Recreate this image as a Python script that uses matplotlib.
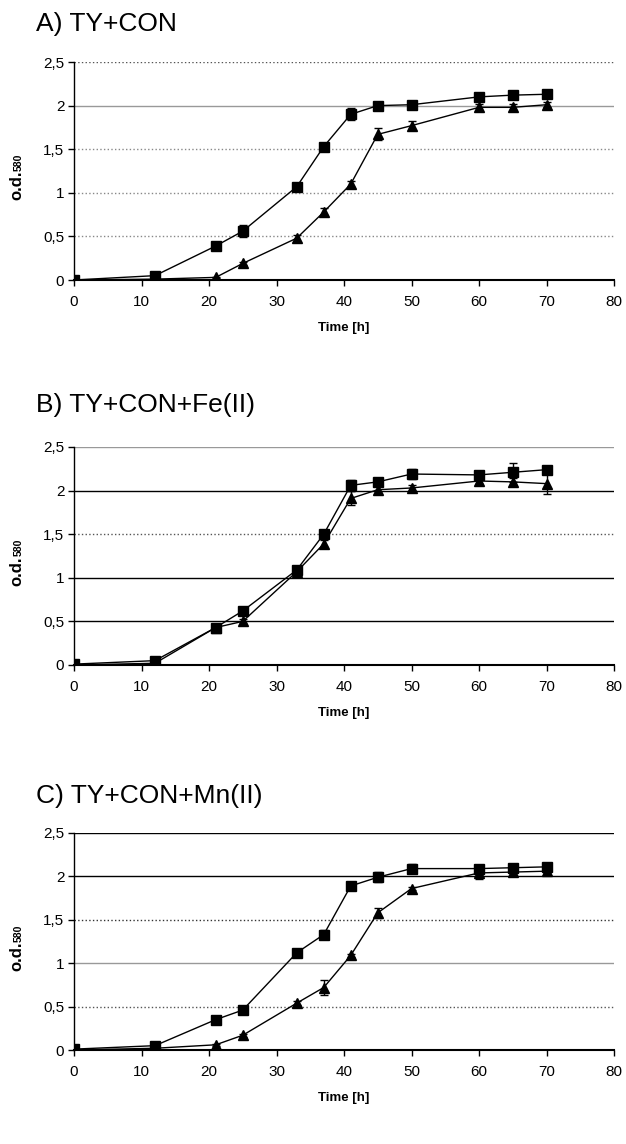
import numpy as np
import matplotlib.pyplot as plt

plt.rcParams['font.family'] = ['Liberation Sans', 'DejaVu Sans']

# sampling times (h)
time_h = [0, 12, 21, 25, 33, 37, 41, 45, 50, 60, 65, 70]

# A) TY+CON
a_sq = [0.00, 0.05, 0.39, 0.56, 1.07, 1.53, 1.90, 2.00, 2.01, 2.10, 2.12, 2.13]
a_sq_err = [0.01, 0.01, 0.02, 0.07, 0.04, 0.03, 0.07, 0.02, 0.04, 0.03, 0.02, 0.03]
a_tri = [0.00, 0.01, 0.03, 0.19, 0.48, 0.78, 1.10, 1.67, 1.77, 1.98, 1.98, 2.01]
a_tri_err = [0.01, 0.01, 0.01, 0.02, 0.04, 0.04, 0.03, 0.07, 0.05, 0.04, 0.04, 0.03]

# B) TY+CON+Fe(II)
b_sq = [0.01, 0.05, 0.43, 0.62, 1.09, 1.50, 2.06, 2.10, 2.19, 2.18, 2.21, 2.24]
b_sq_err = [0.01, 0.01, 0.02, 0.02, 0.03, 0.04, 0.06, 0.03, 0.06, 0.04, 0.11, 0.04]
b_tri = [0.00, 0.02, 0.43, 0.50, 1.07, 1.39, 1.91, 2.01, 2.03, 2.11, 2.10, 2.08]
b_tri_err = [0.01, 0.01, 0.02, 0.03, 0.03, 0.04, 0.08, 0.05, 0.03, 0.03, 0.04, 0.12]

# C) TY+CON+Mn(II)
c_sq = [0.01, 0.05, 0.35, 0.46, 1.12, 1.33, 1.89, 1.99, 2.09, 2.09, 2.10, 2.11]
c_sq_err = [0.01, 0.01, 0.02, 0.02, 0.03, 0.05, 0.02, 0.06, 0.05, 0.04, 0.03, 0.04]
c_tri = [0.00, 0.02, 0.06, 0.17, 0.54, 0.72, 1.09, 1.58, 1.86, 2.04, 2.05, 2.06]
c_tri_err = [0.01, 0.01, 0.01, 0.02, 0.02, 0.09, 0.02, 0.06, 0.02, 0.07, 0.03, 0.02]

titles = ['A) TY+CON', 'B) TY+CON+Fe(II)', 'C) TY+CON+Mn(II)']
y_ticks = [0, 0.5, 1, 1.5, 2, 2.5]
y_ticklabels = ['0', '0,5', '1', '1,5', '2', '2,5']
x_ticks = [0, 10, 20, 30, 40, 50, 60, 70, 80]

# gridline look for 0.5 .. 2.5 in each panel (scanned original, uneven)
grid_styles = [
    [('#888888', ':'), ('#888888', ':'), ('#888888', ':'), ('#999999', '-'), ('#555555', ':')],
    [('black', '-'), ('black', '-'), ('#555555', ':'), ('black', '-'), ('#999999', '-')],
    [('#555555', ':'), ('#999999', '-'), ('#333333', ':'), ('black', '-'), ('black', '-')],
]

panels = [
    (a_sq, a_sq_err, a_tri, a_tri_err),
    (b_sq, b_sq_err, b_tri, b_tri_err),
    (c_sq, c_sq_err, c_tri, c_tri_err),
]

W, H = 626, 1144
fig = plt.figure(figsize=(W / 100, H / 100), dpi=100)

# pixel boxes of the three plot areas: (top, bottom)
boxes = [(62, 280), (447, 665), (833, 1050)]
title_y = [24, 405, 796]
left_px, right_px = 74, 614

for i, (sq, sq_err, tri, tri_err) in enumerate(panels):
    top, bot = boxes[i]
    ax = fig.add_axes([left_px / W, 1 - bot / H, (right_px - left_px) / W, (bot - top) / H])

    for yv, (col, ls) in zip(y_ticks[1:], grid_styles[i]):
        ax.axhline(yv, color=col, ls=ls, lw=1.0, zorder=0)

    ax.errorbar(time_h, sq, yerr=sq_err, color='black', lw=1.0, marker='s', ms=6.5,
                capsize=3, elinewidth=1.0, capthick=1.0, zorder=3)
    ax.errorbar(time_h, tri, yerr=tri_err, color='black', lw=1.0, marker='^', ms=7.5,
                capsize=3, elinewidth=1.0, capthick=1.0, zorder=3)

    ax.set_xlim(0, 80)
    ax.set_ylim(0, 2.5)
    ax.set_xticks(x_ticks)
    ax.set_yticks(y_ticks)
    ax.set_yticklabels(y_ticklabels)
    ax.tick_params(labelsize=11, length=4, width=1, direction='out', pad=3)
    ax.tick_params(axis='x', pad=7)
    for s in ['top', 'right']:
        ax.spines[s].set_visible(False)
    ax.spines['left'].set_linewidth(1.0)
    ax.spines['bottom'].set_linewidth(1.5)
    ax.set_xlabel('Time [h]', fontsize=9.5, fontweight='bold', labelpad=9)

    # y label: "o.d." with small "580" on the same baseline (rotated)
    ax.text(-0.092, 0.5, 'o.d.', rotation=90, transform=ax.transAxes,
            fontsize=12, fontweight='bold', ha='right', va='top')
    ax.text(-0.094, 0.5, '580', rotation=90, transform=ax.transAxes,
            fontsize=7.5, fontweight='bold', ha='right', va='bottom')

    fig.text(36 / W, 1 - title_y[i] / H, titles[i], fontsize=19, va='center', ha='left')

fig.savefig('out.png', dpi=100)
